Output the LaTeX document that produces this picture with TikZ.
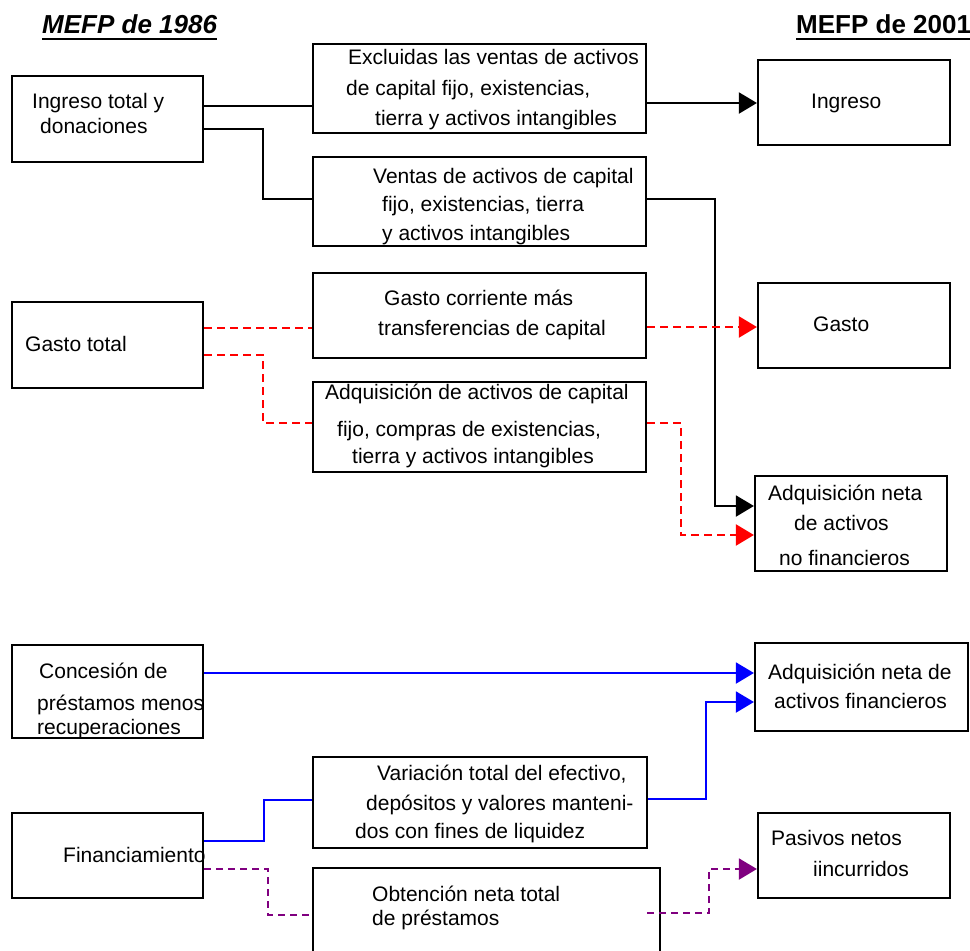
\documentclass[tikz,border=0pt]{standalone}
\usepackage{fontspec}
\setmainfont{Liberation Sans}
\usetikzlibrary{arrows.meta}
\definecolor{myred}{RGB}{255,0,0}
\definecolor{myblue}{RGB}{0,0,255}
\definecolor{mypurple}{RGB}{128,0,128}
\begin{document}
\begin{tikzpicture}[x=1pt,y=-1pt,
  bx/.style={draw=black, line width=2.2pt, inner sep=0pt, fill=none},
  txt/.style={anchor=base west, inner sep=0pt, font=\fontsize{21}{25}\selectfont},
  ttl/.style={anchor=base west, inner sep=0pt, font=\fontsize{26}{30}\selectfont\bfseries\itshape},
  conn/.style={line width=2pt, black},
  rdash/.style={line width=2.2pt, myred, dash pattern=on 8pt off 5pt},
  bconn/.style={line width=2pt, myblue},
  pdash/.style={line width=2pt, mypurple, dash pattern=on 7pt off 5pt},
  tip/.style={-{Triangle[length=18pt,width=21pt]}}
]
\clip (0,0) rectangle (970,951);
\fill[white] (0,0) rectangle (970,951);

% titles
\node[ttl] (t1) at (42,33) {MEFP de 1986};
\node[ttl,font=\fontsize{26}{30}\selectfont\bfseries] (t2) at (796,33) {MEFP de 2001};
\draw[line width=2.6pt] ([yshift=-6pt]t1.base west) -- ([yshift=-6pt]t1.base east);
\draw[line width=2.6pt] ([yshift=-6pt]t2.base west) -- ([yshift=-6pt]t2.base east);

% boxes
\node[bx, minimum width=191pt, minimum height=86pt] (A) at (107.5,119) {};
\node[bx, minimum width=333pt, minimum height=89pt] (B) at (479.5,88.5) {};
\node[bx, minimum width=192pt, minimum height=85pt] (C) at (854,102.5) {};
\node[bx, minimum width=333pt, minimum height=89pt] (D) at (479.5,201.5) {};
\node[bx, minimum width=333pt, minimum height=85pt] (H) at (479.5,315.5) {};
\node[bx, minimum width=192pt, minimum height=85pt] (E) at (854,325.5) {};
\node[bx, minimum width=191pt, minimum height=86pt] (G) at (107.5,345) {};
\node[bx, minimum width=333pt, minimum height=90pt] (I) at (479.5,427) {};
\node[bx, minimum width=192pt, minimum height=95pt] (F) at (851,523.5) {};
\node[bx, minimum width=191pt, minimum height=93pt] (J) at (107.5,691.5) {};
\node[bx, minimum width=213pt, minimum height=88pt] (K) at (861.5,687) {};
\node[bx, minimum width=334pt, minimum height=91pt] (L) at (480,802.5) {};
\node[bx, minimum width=191pt, minimum height=85pt] (M) at (107.5,855.5) {};
\node[bx, minimum width=192pt, minimum height=85pt] (N) at (854,855.5) {};
\node[bx, minimum width=347pt, minimum height=92pt] (O) at (486.5,914) {};

% texts
\node[txt] (a1) at (32,108) {Ingreso total y};
\node[txt] (a2) at (40,133) {donaciones};
\node[txt] (b1) at (348,64) {Excluidas las ventas de activos};
\node[txt] (b2) at (346,95) {de capital fijo, existencias,};
\node[txt] (b3) at (375,125) {tierra y activos intangibles};
\node[txt] (c1) at (811,108) {Ingreso};
\node[txt] (d1) at (373,183) {Ventas de activos de capital};
\node[txt] (d2) at (382,211) {fijo, existencias, tierra};
\node[txt] (d3) at (382,240) {y activos intangibles};
\node[txt] (h1) at (384,305) {Gasto corriente más};
\node[txt] (h2) at (378,335) {transferencias de capital};
\node[txt] (g1) at (25,351) {Gasto total};
\node[txt] (e1) at (813,331) {Gasto};
\node[txt] (i1) at (325,399) {Adquisición de activos de capital};
\node[txt] (i2) at (337,436) {fijo, compras de existencias,};
\node[txt] (i3) at (352,463) {tierra y activos intangibles};
\node[txt] (f1) at (768,500) {Adquisición neta};
\node[txt] (f2) at (794,530) {de activos};
\node[txt] (f3) at (779,565) {no financieros};
\node[txt] (j1) at (39,678) {Concesión de};
\node[txt] (j2) at (37,710) {préstamos menos};
\node[txt] (j3) at (37,734) {recuperaciones};
\node[txt] (k1) at (768,679) {Adquisición neta de};
\node[txt] (k2) at (774,708) {activos financieros};
\node[txt] (l1) at (377,780) {Variación total del efectivo,};
\node[txt] (l2) at (366,810) {depósitos y valores manteni-};
\node[txt] (l3) at (355,838) {dos con fines de liquidez};
\node[txt] (m1) at (63,862) {Financiamiento};
\node[txt] (n1) at (771,845) {Pasivos netos};
\node[txt] (n2) at (813,876) {iincurridos};
\node[txt] (o1) at (372,901) {Obtención neta total};
\node[txt] (o2) at (372,925) {de préstamos};

% black connectors
\draw[conn] ([yshift=13pt]A.east) -- ([yshift=13pt]A.east -| B.west);
\draw[conn,tip] ([yshift=-0.5pt]C.west -| B.east) -- ([yshift=-0.5pt]C.west);
\draw[conn] ([yshift=-10pt]A.east) -- ++(59,0) |- ([yshift=2.5pt]D.west);
\draw[conn,tip] ([yshift=2.5pt]D.east) -- ++(68,0) |- ([yshift=17.5pt]F.west);

% red dashed connectors
\draw[rdash] ([yshift=17pt]G.east) -- ([yshift=17pt]G.east -| H.west);
\draw[rdash,tip] ([yshift=-1.5pt]E.west -| H.east) -- ([yshift=-1.5pt]E.west);
\draw[rdash] ([yshift=-10pt]G.east) -- ++(59,0) |- ([yshift=4pt]I.west);
\draw[rdash,tip] ([yshift=4pt]I.east) -- ++(34,0) |- ([yshift=-11.5pt]F.west);

% blue connectors
\draw[bconn,tip] ([yshift=18.5pt]J.east) -- ([yshift=18.5pt]J.east -| K.west);
\draw[bconn,tip] ([yshift=3.5pt]L.east) -- ++(58,0) |- ([yshift=-15pt]K.west);
\draw[bconn] ([yshift=14.5pt]M.east) -- ++(60,0) |- ([yshift=2.5pt]L.west);

% purple dashed connectors
\draw[pdash] ([yshift=-13.5pt]M.east) -- ++(64,0) |- ([yshift=-1pt]O.west);
\draw[pdash,tip] ([xshift=-14pt,yshift=1pt]O.east) -- ++(62,0) |- ([yshift=-13.5pt]N.west);
\end{tikzpicture}
\end{document}
